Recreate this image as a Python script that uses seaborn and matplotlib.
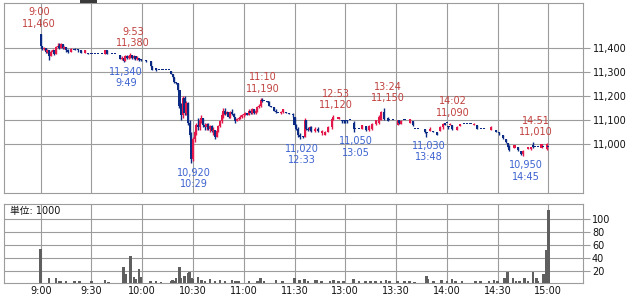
import matplotlib
matplotlib.use("Agg")
import matplotlib.pyplot as plt
from matplotlib.patches import Rectangle
import seaborn as sns
import numpy as np
import pandas as pd

# ---------------- data ----------------
times = ["09:00","09:01","09:02","09:03","09:04","09:05","09:06","09:07","09:08","09:09",
         "09:10","09:11","09:12","09:13","09:14","09:15","09:16","09:18","09:20","09:22",
         "09:24","09:26","09:28","09:30","09:32","09:34","09:36","09:38","09:39","09:42",
         "09:44","09:47","09:48","09:49","09:50","09:51","09:52","09:53","09:54","09:55",
         "09:56","09:57","09:58","09:59","10:02","10:05","10:06","10:08","10:10","10:12",
         "10:14","10:16","10:17","10:18","10:19","10:20","10:21","10:22","10:23","10:24",
         "10:25","10:26","10:27","10:28","10:29","10:30","10:31","10:32","10:33","10:34",
         "10:35","10:36","10:37","10:38","10:39","10:40","10:41","10:42","10:43","10:44",
         "10:45","10:46","10:47","10:48","10:49","10:50","10:51","10:52","10:53","10:54",
         "10:55","10:56","10:57","10:58","10:59","11:00","11:01","11:02","11:03","11:04",
         "11:05","11:06","11:07","11:08","11:09","11:10","11:11","11:12","11:14","11:15",
         "11:16","11:18","11:19","11:20","11:22","11:23","11:25","11:27","11:29",
         "12:30","12:31","12:32","12:33","12:35","12:36","12:37","12:38","12:39","12:40",
         "12:42","12:44","12:46","12:48","12:50","12:52","12:53","12:56","12:58","12:59",
         "13:00","13:01","13:03","13:05","13:06","13:08","13:10","13:12","13:14","13:16",
         "13:18","13:20","13:21","13:23","13:25","13:26","13:28","13:31","13:32","13:33",
         "13:35","13:38","13:40","13:41","13:43","13:47","13:48","13:50","13:52","13:54",
         "13:56","13:58","13:59","14:00","14:01","14:02","14:03","14:06","14:08","14:10",
         "14:12","14:14","14:16","14:18","14:20","14:22","14:26","14:29","14:31","14:33",
         "14:35","14:36","14:37","14:40","14:42","14:44","14:45","14:48","14:50","14:51",
         "14:52","14:54","14:56","14:57","14:59","15:00"]
opens = [11460,11410,11395,11400,11385,11390,11365,11385,11390,11375,
         11405,11410,11400,11415,11400,11405,11390,11385,11395,11390,
         11390,11380,11380,11375,11375,11375,11375,11375,11390,11375,
         11375,11370,11355,11360,11345,11365,11360,11365,11370,11360,
         11365,11355,11360,11350,11350,11345,11325,11315,11310,11310,
         11310,11310,11305,11290,11280,11260,11255,11225,11160,11120,
         11190,11130,11170,11090,11040,10940,11020,11050,11080,11070,
         11100,11110,11080,11070,11085,11065,11075,11055,11060,11030,
         11055,11075,11095,11120,11140,11125,11135,11115,11135,11125,
         11115,11095,11105,11110,11115,11120,11125,11130,11120,11140,
         11130,11145,11130,11140,11155,11160,11185,11180,11180,11175,
         11160,11155,11140,11130,11130,11135,11135,11130,11125,
         11115,11080,11065,11040,11030,11030,11100,11065,11060,11070,
         11055,11065,11045,11040,11050,11070,11105,11105,11100,11095,
         11100,11095,11100,11090,11065,11065,11065,11075,11060,11065,
         11085,11090,11100,11135,11110,11100,11100,11080,11100,11085,
         11100,11090,11095,11065,11065,11065,11050,11055,11055,11050,
         11055,11070,11090,11090,11075,11080,11080,11060,11075,11085,
         11085,11085,11080,11080,11065,11065,11060,11060,11050,11040,
         11020,11005,10990,10985,10990,10970,10960,10980,10980,10995,
         10990,10990,10985,10990,10980,10990]
highs = [11460,11410,11405,11400,11395,11390,11390,11395,11390,11410,
         11420,11420,11420,11415,11410,11405,11395,11400,11400,11395,
         11390,11390,11380,11375,11375,11375,11375,11390,11390,11375,
         11375,11370,11365,11360,11370,11370,11370,11380,11370,11370,
         11365,11365,11360,11355,11350,11345,11325,11315,11310,11310,
         11310,11310,11305,11290,11280,11260,11255,11225,11170,11200,
         11200,11180,11175,11100,11050,11030,11060,11090,11110,11110,
         11120,11110,11090,11090,11090,11080,11080,11070,11060,11060,
         11080,11100,11130,11150,11150,11140,11135,11140,11145,11130,
         11115,11110,11115,11120,11125,11130,11135,11130,11145,11145,
         11150,11145,11145,11160,11165,11190,11190,11180,11180,11180,
         11160,11155,11145,11130,11140,11145,11135,11130,11130,
         11115,11085,11070,11045,11035,11110,11100,11070,11075,11075,
         11070,11070,11060,11055,11075,11110,11120,11115,11100,11100,
         11100,11100,11100,11095,11065,11065,11080,11075,11080,11090,
         11100,11120,11140,11150,11115,11100,11100,11100,11100,11100,
         11100,11105,11095,11065,11065,11065,11050,11070,11055,11050,
         11075,11090,11090,11090,11075,11090,11080,11075,11085,11085,
         11085,11085,11090,11080,11065,11065,11075,11060,11050,11040,
         11020,11005,10995,10995,10990,10970,10975,10990,10990,11010,
         10990,10990,11000,10990,11005,10990]
lows = [11400,11390,11390,11380,11380,11350,11365,11380,11370,11375,
        11400,11395,11400,11395,11395,11385,11380,11385,11390,11385,
        11380,11380,11375,11375,11375,11375,11375,11375,11375,11375,
        11375,11355,11350,11340,11345,11355,11355,11360,11355,11355,
        11350,11350,11345,11345,11340,11320,11310,11305,11310,11310,
        11310,11310,11290,11275,11255,11250,11220,11150,11100,11110,
        11120,11120,11080,11030,10920,10930,11010,11040,11060,11060,
        11090,11070,11060,11060,11060,11050,11050,11040,11020,11030,
        11050,11070,11090,11110,11120,11120,11110,11110,11120,11110,
        11090,11095,11100,11105,11110,11115,11120,11120,11120,11125,
        11125,11125,11125,11135,11150,11155,11175,11180,11175,11160,
        11155,11140,11130,11130,11125,11130,11130,11125,11115,
        11075,11060,11030,11020,11025,11030,11060,11055,11055,11050,
        11050,11050,11040,11040,11050,11065,11100,11105,11090,11090,
        11090,11090,11100,11050,11065,11065,11065,11055,11055,11060,
        11080,11085,11100,11100,11095,11100,11100,11080,11085,11085,
        11100,11090,11075,11065,11065,11045,11030,11055,11050,11040,
        11055,11065,11080,11090,11065,11080,11060,11060,11075,11085,
        11085,11085,11080,11065,11065,11065,11060,11050,11040,11020,
        11005,10985,10970,10985,10970,10955,10950,10980,10975,10985,
        10990,10990,10985,10990,10975,10990]
closes = [11410,11395,11400,11385,11390,11365,11385,11390,11375,11405,
          11410,11400,11415,11400,11405,11390,11385,11395,11390,11390,
          11380,11390,11375,11375,11375,11375,11375,11390,11375,11375,
          11375,11355,11360,11345,11365,11360,11365,11370,11360,11365,
          11355,11360,11350,11350,11345,11325,11310,11310,11310,11310,
          11310,11310,11290,11280,11260,11255,11225,11160,11120,11190,
          11130,11170,11090,11040,10940,11020,11050,11080,11070,11100,
          11110,11080,11070,11085,11065,11075,11055,11060,11030,11055,
          11075,11095,11120,11140,11125,11135,11115,11135,11125,11115,
          11095,11105,11110,11115,11120,11125,11130,11120,11140,11130,
          11145,11130,11140,11155,11160,11185,11180,11180,11175,11160,
          11155,11140,11135,11130,11135,11145,11130,11125,11120,
          11080,11065,11040,11030,11030,11100,11065,11060,11070,11055,
          11065,11055,11055,11050,11070,11105,11115,11115,11095,11095,
          11095,11095,11100,11065,11065,11065,11080,11060,11075,11085,
          11100,11115,11135,11105,11095,11100,11100,11100,11090,11095,
          11100,11105,11080,11065,11065,11050,11045,11065,11050,11040,
          11070,11085,11080,11090,11070,11085,11065,11070,11085,11085,
          11085,11085,11085,11065,11065,11065,11070,11050,11045,11025,
          11010,10990,10975,10995,10975,10960,10970,10990,10990,10990,
          10990,10990,11000,10990,11000,10990]

vol_times = ["09:00","09:05","09:09","09:11","09:12","09:15","09:20","09:23","09:30","09:38",
             "09:40","09:49","09:50","09:53","09:55","09:56","09:58","09:59","10:05","10:08",
             "10:11","10:17","10:18","10:19","10:20","10:22","10:23","10:25","10:27","10:28",
             "10:29","10:30","10:33","10:35","10:37","10:40","10:43","10:46","10:49","10:53",
             "10:55","10:57","11:03","11:08","11:10","11:12","11:19","11:23",
             "12:30","12:33","12:36","12:38","12:42","12:43","12:46","12:51","12:53","12:56",
             "12:59","13:05","13:08","13:12","13:15","13:18","13:21","13:24","13:26","13:31",
             "13:35","13:38","13:41","13:48","13:49","13:52","13:57","14:00","14:03","14:05",
             "14:09","14:17","14:20","14:25","14:28","14:30","14:34","14:36","14:39","14:41",
             "14:43","14:46","14:48","14:51","14:53","14:54","14:57","14:59","15:00"]
vol_values = [53,8,8,4,4,3,4,3,3,5,
              2,26,14,42,10,6,22,10,4,3,
              2,3,5,4,9,26,9,12,16,17,
              8,6,10,5,4,6,4,5,3,5,
              3,4,3,4,9,4,5,3,
              9,5,7,4,5,5,4,4,5,3,
              3,7,3,3,3,3,4,5,3,3,
              3,4,2,11,7,4,5,3,7,4,
              3,4,3,3,5,3,8,18,8,3,
              3,8,4,17,8,4,14,52,115]

ann_times = ["09:00","09:53","11:10","12:53","13:24","14:02","14:51",
             "09:49","10:29","12:33","13:05","13:48","14:45"]
ann_prices = [11460,11380,11190,11120,11150,11090,11010,
              11340,10920,11020,11050,11030,10950]
ann_kind = ["high"]*7 + ["low"]*6

price_ticks = [11000, 11100, 11200, 11300, 11400]
vol_ticks = [20, 40, 60, 80, 100]
time_tick_labels = ["9:00","9:30","10:00","10:30","11:00","11:30",
                    "13:00","13:30","14:00","14:30","15:00"]
time_tick_pos = [0, 30, 60, 90, 120, 150, 180, 210, 240, 270, 300]


def to_x(t):
    h, m = map(int, t.split(":"))
    mins = h * 60 + m
    return mins - 540 if mins < 750 else mins - 600


# ---------------- style ----------------
sns.set_theme(style="white")
plt.rcParams['font.family'] = ['DejaVu Sans', 'Noto Sans CJK JP']

UP = "#e3174a"
DOWN = "#0b2a84"
GRID = "#9c9c9c"
RED_TXT = "#c0403e"
BLUE_TXT = "#3c62d0"
FS = 7

fig = plt.figure(figsize=(6.35, 2.97), dpi=100)
W, H = 635.0, 297.0
axp = fig.add_axes([4 / W, 1 - 193 / H, 579 / W, 190 / H])
axv = fig.add_axes([4 / W, 1 - 283.3 / H, 579 / W, 79.3 / H])

df = pd.DataFrame({"t": times, "o": opens, "h": highs, "l": lows, "c": closes})
df["x"] = df["t"].map(to_x)
df["up"] = df["c"] > df["o"]
df["col"] = np.where(df["up"], UP, DOWN)
df["bot"] = df[["o", "c"]].min(axis=1)
df["hgt"] = (df["c"] - df["o"]).abs().clip(lower=4)

XMIN, XMAX = -21.7, 320.5

for ax in (axp, axv):
    ax.set_xlim(XMIN, XMAX)
    ax.set_xticks(time_tick_pos)
    ax.grid(True, color=GRID, linewidth=0.8)
    ax.set_axisbelow(True)
    for s in ax.spines.values():
        s.set_color(GRID)
        s.set_linewidth(0.8)
    ax.set_facecolor("white")

# price panel
axp.vlines(df["x"], df["l"], df["h"], colors=df["col"], linewidth=1.0, zorder=3)
axp.bar(df["x"], df["hgt"], bottom=df["bot"], width=1.25, color=df["col"],
        linewidth=0, zorder=4)
axp.set_ylim(10797, 11587)
axp.set_yticks(price_ticks)
axp.set_yticklabels([f"{v:,}" for v in price_ticks])
axp.yaxis.tick_right()
axp.tick_params(axis="y", which="both", right=True, left=False, length=5,
                width=0.8, color=GRID, pad=2.5, labelsize=FS, labelcolor="#111")
axp.tick_params(axis="x", bottom=False, labelbottom=False)

for t, p, k in zip(ann_times, ann_prices, ann_kind):
    x = to_x(t)
    dx = -1 if t == "09:00" else 1.8
    if k == "high":
        axp.annotate(f"{t.lstrip('0')}\n{p:,}", xy=(x, p), xytext=(dx, 3.5),
                     textcoords="offset points", ha="center", va="bottom",
                     fontsize=FS, color=RED_TXT, linespacing=1.15, zorder=6)
    else:
        axp.annotate(f"{p:,}\n{t.lstrip('0')}", xy=(x, p), xytext=(dx, -3),
                     textcoords="offset points", ha="center", va="top",
                     fontsize=FS, color=BLUE_TXT, linespacing=1.15, zorder=6)

# volume panel
vdf = pd.DataFrame({"x": [to_x(t) for t in vol_times], "v": vol_values})
axv.bar(vdf["x"], vdf["v"], width=1.5, color="#5f5f5f", linewidth=0, zorder=3)
axv.set_xlim(XMIN, XMAX)
axv.set_ylim(0, 124)
axv.set_yticks(vol_ticks)
axv.set_yticklabels([str(v) for v in vol_ticks])
axv.yaxis.tick_right()
axv.tick_params(axis="y", which="both", right=True, left=False, length=5,
                width=0.8, color=GRID, pad=1.5, labelsize=FS, labelcolor="#111")
axv.set_xticklabels(time_tick_labels)
axv.tick_params(axis="x", length=0, pad=2, labelsize=FS, labelcolor="#111")
axv.set_xlabel("")
axv.set_ylabel("")
axv.text(6 / 579, 0.91, "単位: 1000", transform=axv.transAxes, ha="left",
         va="center", fontsize=FS, color="#111")

# small dark tab at the top edge
fig.patches.append(Rectangle((80 / W, 1 - 3 / H), 17 / W, 3 / H,
                             transform=fig.transFigure, facecolor="#3a3a3a",
                             edgecolor="none"))

fig.savefig("out.png", dpi=100, facecolor="white")
